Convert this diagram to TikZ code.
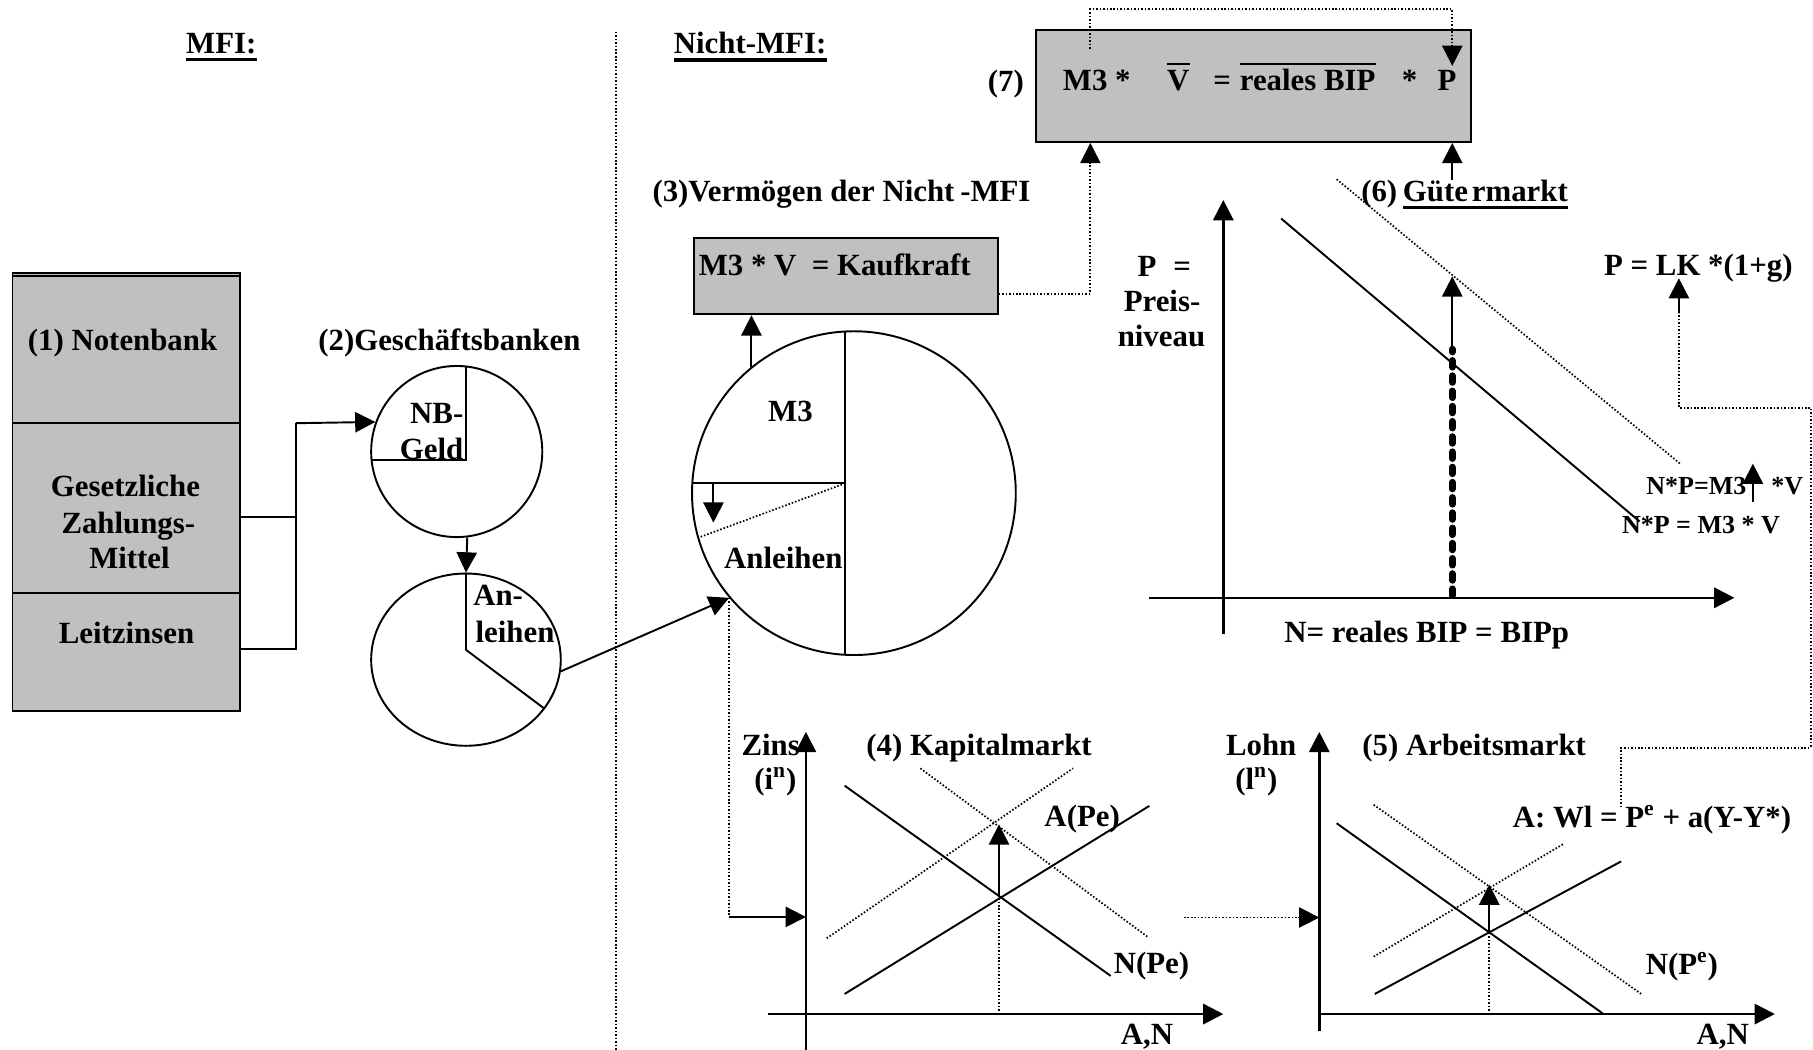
\documentclass[tikz,border=0pt]{standalone}
\usepackage{fontspec}
\setmainfont{Liberation Serif}
\usetikzlibrary{arrows.meta,shapes.geometric}
\definecolor{boxgray}{RGB}{192,192,192}
\begin{document}
\begin{tikzpicture}[x=0.6pt,y=-0.6pt,
  lbl/.style={inner sep=0pt, font=\bfseries\fontsize{16}{18}\selectfont},
  slbl/.style={inner sep=0pt, font=\bfseries\fontsize{13.5}{15}\selectfont},
  line/.style={line width=1pt},
  tip/.style={-{Triangle[length=10.5pt,width=10.5pt]}},
  arr/.style={line width=1pt, tip},
  dotl/.style={line width=0.9pt, dash pattern=on 0.8pt off 1pt},
  darr/.style={dotl, tip},
  graybox/.style={draw, line width=1pt, fill=boxgray, inner sep=0pt, anchor=north west},
  pie/.style={draw, line width=1pt, inner sep=0pt},
  ax/.style={line width=1.3pt, tip},
  uline/.style={line width=1.8pt},
  thickdash/.style={line width=3.6pt, line cap=round, dash pattern=on 3.4pt off 4.5pt},
]
\useasboundingbox (0,0) rectangle (1568,908);

% ---------- headings ----------
\node[lbl, anchor=base west] (mfi) at (160.7,46) {MFI:};
\draw[uline] ([yshift=-3.3pt]mfi.base west) -- ([yshift=-3.3pt]mfi.base east);
\node[lbl, anchor=base west] (nmfi) at (582.5,46) {Nicht-MFI:};
\draw[uline] ([yshift=-3.6pt]nmfi.base west) -- ([yshift=-3.6pt]nmfi.base east);
\coordinate (divtop) at (533,27.4);
\coordinate (divbot) at (533,912);
\draw[dotl] (divtop) -- (divbot);

% ---------- (1) Notenbank ----------
\node[graybox, minimum width=197*0.6pt, minimum height=379*0.6pt] (nb) at (10,235) {};
\draw[line width=0.8pt] (10,238.5) -- (207,238.5);
\draw[line] (10,366) -- (207,366);
\draw[line] (10,513) -- (207,513);
\node[lbl, anchor=base] (t1) at (106,302.7) {(1) Notenbank};
\node[lbl, anchor=base] (t2) at (108.5,429.5) {Gesetzliche};
\node[lbl, anchor=base] (t3) at (111,461) {Zahlungs-};
\node[lbl, anchor=base] (t4) at (112,491.5) {Mittel};
\node[lbl, anchor=base] (t5) at (109.4,556.3) {Leitzinsen};

% ---------- (2) Geschaeftsbanken ----------
\node[lbl, anchor=base west] (t6) at (275,302.7) {(2)Geschäftsbanken};
\node[pie, circle, minimum size=148*0.6pt] (c1) at (395,390.5) {};
\draw[line] (403,317) -- (403,398) -- (321.3,398);
\node[lbl, anchor=base east] (nbg1) at (401,366) {NB-};
\node[lbl, anchor=base east] (nbg2) at (401,397) {Geld};

\node[pie, ellipse, minimum width=164*0.6pt, minimum height=149*0.6pt] (c2) at (403,570.5) {};
\draw[line] (c2.north) -- (403,562) -- (470.5,612.6);
\node[lbl, anchor=base west] (an1) at (409,523.8) {An-};
\node[lbl, anchor=base west] (an2) at (411,556) {leihen};

\coordinate (j1) at (256,447);
\coordinate (j2) at (256,561);
\coordinate (j3) at (256,366);
\draw[line] (nb.east |- j1) -- (j1);
\draw[line] (nb.east |- j2) -- (j2) -- (j3);
\draw[arr] (j3) -- (c1.160.7);
\draw[arr] (c1.-83.8) -- (c2.north);

% ---------- (3) Vermoegen der Nicht-MFI ----------
\node[lbl, anchor=base west] (t7) at (564,174) {(3)Vermögen der Nicht\kern3pt-MFI};
\node[graybox, minimum width=263*0.6pt, minimum height=66*0.6pt] (kk) at (599,205) {};
\node[lbl, anchor=base west] (kkt) at (604,238.5) {M3 * V\ \ = Kaufkraft};

\node[pie, circle, minimum size=280*0.6pt] (c3) at (738.5,426.5) {};
\draw[line] (731,286.7) -- (731,566.3);
\draw[line] (598.8,418) -- (731,418);
\draw[dotl] (731,418) -- (604,465);
\draw[arr] (617,418) -- (617,452);
\node[lbl, anchor=base west] (m3) at (664,364.7) {M3};
\node[lbl, anchor=base west] (anl) at (626,492) {Anleihen};

\draw[arr] (c2.-7.3) -- (c3.220.4);
\draw[arr] (c3.129.2) -- (kk.south -| c3.129.2);

% ---------- (7) ----------
\node[graybox, minimum width=376*0.6pt, minimum height=97*0.6pt] (b7) at (895,25) {};
\node[lbl, anchor=base west] (l7) at (854,79) {(7)};
\node[lbl, anchor=base west] (e1) at (919,78.4) {M3 *};
\node[lbl, anchor=base west] (e2) at (1009,78.4) {V};
\draw[line width=1.4pt] ([yshift=3.2pt]e2.north west) -- ([yshift=3.2pt]e2.north east);
\node[lbl, anchor=base west] (e3) at (1049,78.4) {=};
\node[lbl, anchor=base west] (e4) at (1072,78.4) {reales BIP};
\draw[line width=1.4pt] ([yshift=2.5pt]e4.north west) -- ([yshift=2.5pt]e4.north east);
\node[lbl, anchor=base west] (e5) at (1212,78.4) {*};
\node[lbl, anchor=base west] (e6) at (1243,78.4) {P};

\coordinate (k1) at (943,254);
\draw[darr] (kk.east |- k1) -- (k1) -- (k1 |- b7.south);
\coordinate (d1) at (943,42);
\coordinate (d2) at (1256,8);
\coordinate (d3) at (1256,57);
\draw[darr] (d1) -- (d1 |- d2) -- (d2) -- (d3);
\coordinate (g0) at (1256,156);
\draw[arr] (g0) -- (g0 |- b7.south);

% ---------- (6) Guetermarkt ----------
\node[lbl, anchor=base west] (g6) at (1177,174.4) {(6)};
\node[lbl, anchor=base west] (gm) at (1213,174.4) {Güte\kern2pt rmarkt};
\draw[uline] ([yshift=-3pt]gm.base west) -- ([yshift=-3pt]gm.base east);

\coordinate (gyb) at (1058,548);
\coordinate (gyt) at (1058,173);
\coordinate (gxl) at (993.7,517);
\coordinate (gxr) at (1500,517);
\draw[ax] (gyb) -- (gyt);
\draw[ax] (gxl) -- (gxr);
\node[lbl, anchor=base] (pe1) at (1007,238.7) {P\hspace{0.55em}=};
\node[lbl, anchor=base] (pe2) at (1005,269.6) {Preis-};
\node[lbl, anchor=base] (pe3) at (1004.5,299.8) {niveau};

\draw[line] (1108,189) -- (1418,451);
\draw[dotl] (1156,155) -- (1453,401);
\coordinate (v1) at (1256,515);
\coordinate (v2) at (1256,302);
\coordinate (v3) at (1256,239);
\draw[thickdash] (v1) -- (v2);
\draw[arr] (v2) -- (v3);

\node[slbl, anchor=base west] (np1) at (1423.5,428) {N*P=M3\hspace{13pt}*V};
\coordinate (s1) at (1516,434);
\coordinate (s2) at (1516,401);
\draw[arr] (s1) -- (s2);
\node[slbl, anchor=base west] (np2) at (1402.5,461) {N*P = M3 * V};
\node[lbl, anchor=base west] (nbip) at (1110.5,555.8) {N= reales BIP = BIPp};

\node[lbl, anchor=base west] (lk) at (1387,238) {P = LK *(1+g)};
\coordinate (p1) at (1402,698);
\coordinate (p2) at (1402,646.6);
\coordinate (p3) at (1566,646.6);
\coordinate (p4) at (1566,352.6);
\coordinate (p5) at (1452,352.6);
\coordinate (p6) at (1452,271);
\coordinate (p7) at (1452,240.6);
\draw[dotl] (p1) -- (p2) -- (p3) -- (p4) -- (p5) -- (p6);
\draw[arr] (p6) -- (p7);

% ---------- (4) Kapitalmarkt ----------
\coordinate (kyb) at (697,912);
\coordinate (kyt) at (697,633);
\coordinate (kxl) at (664,877);
\coordinate (kxr) at (1058,877);
\draw[ax] (kyb) -- (kyt);
\draw[ax] (kxl) -- (kxr);
\node[lbl, anchor=base west] (zins) at (641,653) {Zins};
\node[lbl, anchor=base west] (zin) at (652,683) {(i\textsuperscript{n})};
\node[lbl, anchor=base west] (kap) at (749,653) {(4) Kapitalmarkt};
\draw[line] (730.5,679.5) -- (960.6,844);
\draw[line] (730.5,859.6) -- (994,697);
\draw[dotl] (715,811.5) -- (928,664.5);
\draw[dotl] (796,664.5) -- (993,810.6);
\draw[dotl] (864,877) -- (864,776);
\draw[arr] (864,776) -- (864,713);
\node[lbl, anchor=base west] (ape) at (903,715) {A(Pe)};
\node[lbl, anchor=base west] (npe) at (963,842) {N(Pe)};
\node[lbl, anchor=base west] (an4) at (969,903) {A,N};

\coordinate (z1) at (632,793);
\draw[dotl] (c3.220.4) -- (c3.220.4 |- z1);
\draw[arr] (c3.220.4 |- z1) -- (kyt |- z1);

% ---------- (5) Arbeitsmarkt ----------
\coordinate (ayb) at (1141,892);
\coordinate (ayt) at (1141,633);
\coordinate (axl) at (1141,877);
\coordinate (axr) at (1535,877);
\draw[ax] (ayb) -- (ayt);
\draw[ax] (axl) -- (axr);
\coordinate (q1) at (1024,793.5);
\draw[darr] (q1) -- (ayt |- q1);
\node[lbl, anchor=base west] (lohn) at (1060,653) {Lohn};
\node[lbl, anchor=base west] (ln) at (1068,683) {(l\textsuperscript{n})};
\node[lbl, anchor=base west] (arb) at (1178,653) {(5) Arbeitsmarkt};
\draw[line] (1156,712) -- (1386,876.4);
\draw[line] (1189,859.6) -- (1402,745);
\draw[dotl] (1188,827.4) -- (1352,730);
\draw[dotl] (1188,696) -- (1420,860);
\draw[dotl] (1288,877) -- (1288,806);
\draw[arr] (1288,806) -- (1288,765);
\node[lbl, anchor=base west] (aw) at (1308,716) {A: Wl = P\textsuperscript{e} + a(Y-Y*)};
\node[lbl, anchor=base west] (npe5) at (1423,843) {N(P\textsuperscript{e})};
\node[lbl, anchor=base west] (an5) at (1467,903) {A,N};
\end{tikzpicture}
\end{document}
